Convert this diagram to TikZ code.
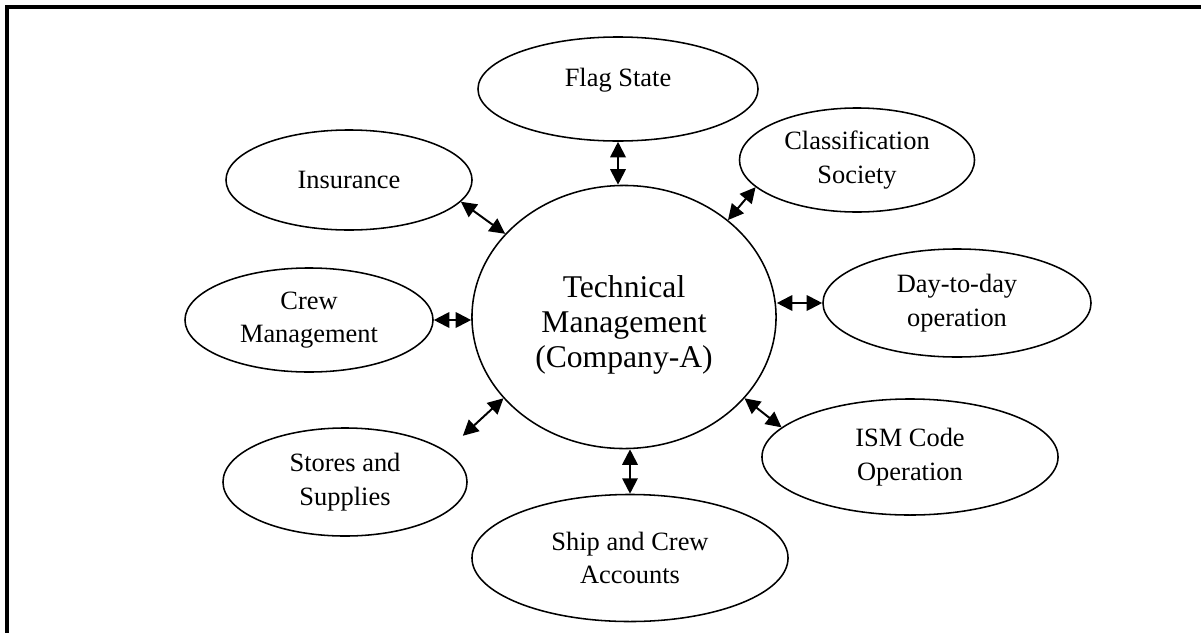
\documentclass[tikz,border=0pt]{standalone}
\usepackage{fontspec}
\setmainfont{Liberation Serif}
\usetikzlibrary{arrows.meta}
\usetikzlibrary{shapes.geometric}

\tikzset{
  bubble/.style={ellipse, draw, line width=1.1pt, inner sep=0pt, align=center,
    font=\fontsize{18.8}{24}\selectfont},
  link/.style={{Triangle[length=11pt,width=11pt]}-{Triangle[length=11pt,width=11pt]},
    line width=1.4pt}
}

\begin{document}
\begin{tikzpicture}[x=0.025cm,y=-0.025cm]
\useasboundingbox (0,0) rectangle (1201,632);
% frame, only top and left edge show
\draw[line width=2.4pt] (7,640) -- (7,7) -- (1210,7);

% hub
\node[bubble, minimum width=7.6cm, minimum height=6.575cm, text height=77pt,
  font=\fontsize{22.5}{24.8}\selectfont] (tm) at (624,317)
  {Technical\\ Management\\ (Company-A)};

% satellites
\node[bubble, minimum width=7cm, minimum height=2.6cm, text depth=17pt] (flag) at (618,89) {Flag State};
\node[bubble, minimum width=6.15cm, minimum height=2.5cm] (insur) at (349,180) {Insurance};
\node[bubble, minimum width=5.875cm, minimum height=2.6cm] (class) at (857,160) {Classification\\ Society};
\node[bubble, minimum width=6.2cm, minimum height=2.6cm] (crew) at (309,320) {Crew\\ Management};
\node[bubble, minimum width=6.7cm, minimum height=2.7cm] (day) at (957,303) {Day-to-day\\ operation};
\node[bubble, minimum width=7.4cm, minimum height=2.9cm] (ism) at (910,457) {ISM Code\\ Operation};
\node[bubble, minimum width=6.1cm, minimum height=2.7cm] (stores) at (345,482) {Stores and\\ Supplies};
\node[bubble, minimum width=7.9cm, minimum height=3.175cm] (accts) at (630,558) {Ship and Crew\\ Accounts};

% two-way links
\draw[link] (flag.south) -- (flag.south |- tm.north);
\draw[link] (insur.-11) -- (tm.145);
\draw[link] (class.195) -- (tm.43);
\draw[link] (crew.east) -- (tm.west |- crew.east);
\draw[link] (day.west) -- (tm.east |- day.west);
\draw[link] (tm.-34) -- (ism.167);
\draw[link, shorten >=16pt] (tm.214) -- (stores.17);
\draw[link] (accts.north) -- (accts.north |- tm.south);
\end{tikzpicture}
\end{document}
